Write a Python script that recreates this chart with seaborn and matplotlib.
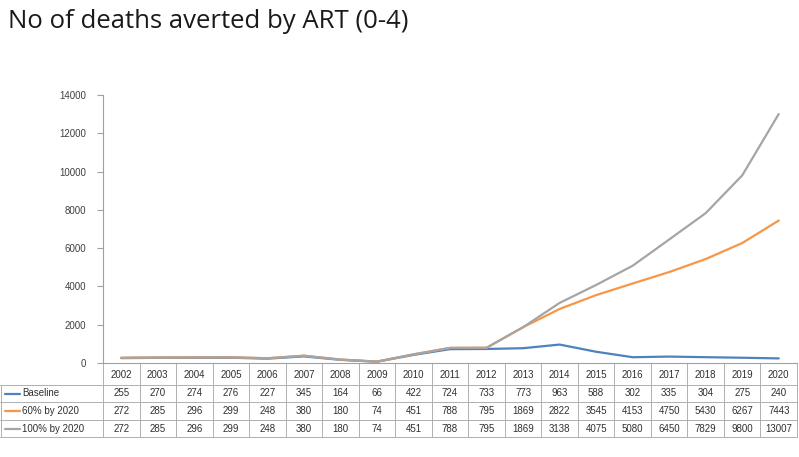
import matplotlib
matplotlib.use("Agg")
import matplotlib.pyplot as plt
import matplotlib.transforms as mtransforms
import seaborn as sns
import pandas as pd

years = [2002, 2003, 2004, 2005, 2006, 2007, 2008, 2009, 2010, 2011,
         2012, 2013, 2014, 2015, 2016, 2017, 2018, 2019, 2020]
baseline = [255, 270, 274, 276, 227, 345, 164, 66, 422, 724,
            733, 773, 963, 588, 302, 335, 304, 275, 240]
by2020_60 = [272, 285, 296, 299, 248, 380, 180, 74, 451, 788,
             795, 1869, 2822, 3545, 4153, 4750, 5430, 6267, 7443]
by2020_100 = [272, 285, 296, 299, 248, 380, 180, 74, 451, 788,
              795, 1869, 3138, 4075, 5080, 6450, 7829, 9800, 13007]
series_names = ["Baseline", "60% by 2020", "100% by 2020"]
series_colors = ["#4F81BD", "#F79646", "#A5A5A5"]
yticks = [0, 2000, 4000, 6000, 8000, 10000, 12000, 14000]

sns.set_theme(style="white")
plt.rcParams["font.family"] = ["Liberation Sans", "DejaVu Sans"]

df = pd.DataFrame({"idx": list(range(len(years))) * 3,
                   "value": baseline + by2020_60 + by2020_100,
                   "series": [s for s in series_names for _ in years]})

W, H = 799, 457
fig = plt.figure(figsize=(W / 100, H / 100), dpi=100)
ax = fig.add_axes([103 / W, (H - 363) / H, 694 / W, 268 / H])

sns.lineplot(data=df, x="idx", y="value", hue="series", hue_order=series_names,
             palette=series_colors, linewidth=1.6, legend=False, ax=ax)

ax.set_xlim(-0.5, len(years) - 0.5)
ax.set_ylim(0, 14000)
ax.set_yticks(yticks)
ax.set_yticklabels([str(v) for v in yticks], fontsize=7, color="#404040")
ax.set_xticks([])
ax.set_xlabel("")
ax.set_ylabel("")
for s in ["top", "right"]:
    ax.spines[s].set_visible(False)
for s in ["left", "bottom"]:
    ax.spines[s].set_color("#A0A0A0")
    ax.spines[s].set_linewidth(0.8)
ax.tick_params(axis="y", left=True, length=4, width=0.8, color="#A0A0A0", pad=8)

# data table under the plot
px_y = lambda y: (H - y) / H  # figure y from pixel row
trans = mtransforms.blended_transform_factory(ax.transData, fig.transFigure)
row_edges = [363, 385, 402, 420, 437]
grid_kw = dict(color="#B0B0B0", linewidth=0.7, clip_on=False)

for i in range(len(years) + 1):
    ax.plot([i - 0.5, i - 0.5], [px_y(row_edges[0]), px_y(row_edges[-1])],
            transform=trans, **grid_kw)
for y in row_edges[1:]:
    fig.add_artist(plt.Line2D([0 / W, 797 / W], [px_y(y), px_y(y)],
                              color="#B0B0B0", linewidth=0.7))
fig.add_artist(plt.Line2D([0.5 / W, 0.5 / W], [px_y(row_edges[1]), px_y(row_edges[-1])],
                          color="#B0B0B0", linewidth=0.7))

for i, yr in enumerate(years):
    ax.text(i, px_y((row_edges[0] + row_edges[1]) / 2 + 1), str(yr), transform=trans,
            ha="center", va="center", fontsize=7, color="#303030")

rows = [baseline, by2020_60, by2020_100]
for r, (vals, name, col) in enumerate(zip(rows, series_names, series_colors)):
    yc = px_y((row_edges[r + 1] + row_edges[r + 2]) / 2)
    for i, v in enumerate(vals):
        ax.text(i, yc, str(v), transform=trans, ha="center", va="center",
                fontsize=7, color="#303030")
    fig.add_artist(plt.Line2D([5 / W, 20 / W], [yc, yc], color=col, linewidth=1.6))
    fig.text(22 / W, yc, name, ha="left", va="center", fontsize=7, color="#303030")

fig.text(8 / W, px_y(22), "No of deaths averted by ART (0-4)", ha="left", va="center",
         fontsize=18.5, color="#1a1a1a", family=["Open Sans", "DejaVu Sans"])

fig.savefig("out.png", dpi=100, facecolor="white")
